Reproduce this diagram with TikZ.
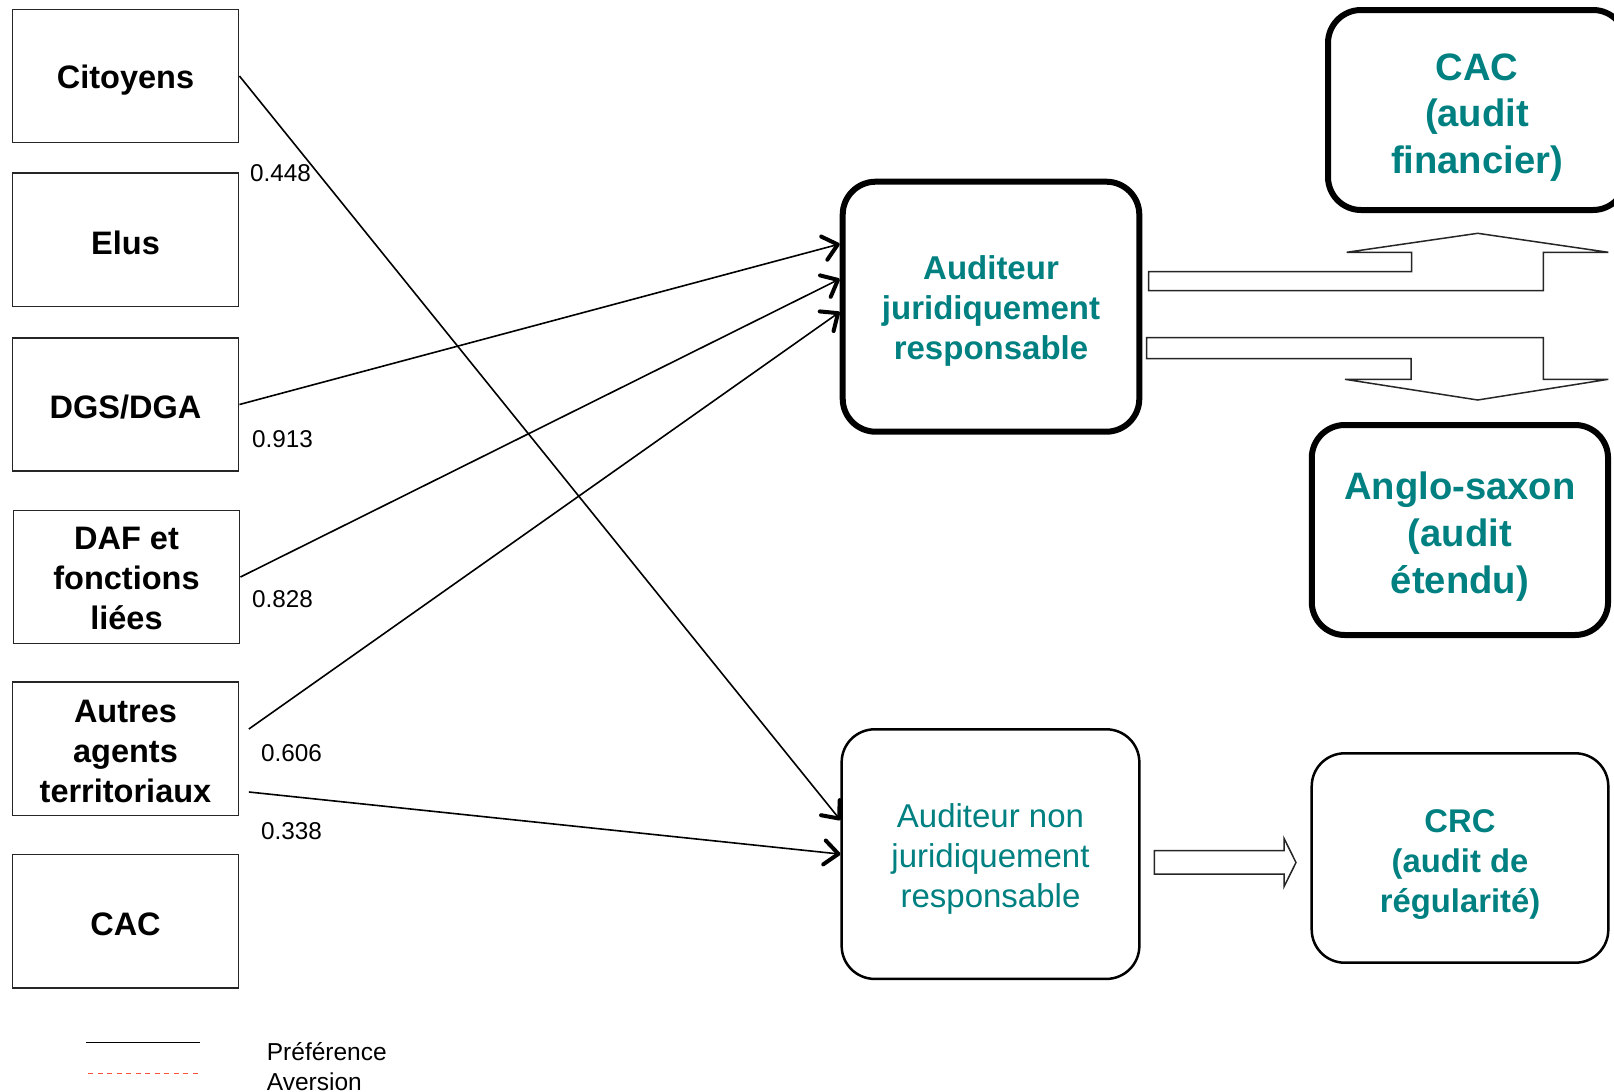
\documentclass[tikz,border=0pt]{standalone}
\usepackage{fontspec}
\setmainfont{Liberation Sans}
\usetikzlibrary{arrows.meta}
\definecolor{tealtxt}{RGB}{0,128,128}
\definecolor{avers}{RGB}{250,85,60}
\begin{document}
\begin{tikzpicture}[x=1pt,y=-1pt,
  actor/.style={draw=black!85, line width=1.5pt, minimum width=226.4pt, minimum height=133.4pt,
    inner sep=0pt},
  actortxt/.style={inner sep=0pt, align=center, font=\fontsize{32.5}{40}\selectfont\bfseries},
  thickbox/.style={draw=black, line width=6pt, rounded corners=33pt, inner sep=0pt},
  thinbox/.style={draw=black, line width=2.5pt, rounded corners=33pt, inner sep=0pt},
  boxtxt/.style={inner sep=0pt, align=center, text=tealtxt},
  conn/.style={draw=black, line width=1.6pt,
    -{Straight Barb[length=14pt,width=24pt,line width=4pt,round]}},
  coef/.style={anchor=west, inner sep=0pt, font=\fontsize{24.3}{29}\selectfont},
  legtxt/.style={anchor=base west, inner sep=0pt, font=\fontsize{24.5}{29}\selectfont},
  blockarrow/.style={draw=black!85, line width=1.5pt, fill=white, line join=miter}
]
\useasboundingbox (0,0) rectangle (1614,1092);
\clip (0,0) rectangle (1614,1092);

% left actors
\node[actor] (cit) at (125.5,76) {};
\node[actor] (elu) at (125.5,239.7) {};
\node[actor] (dgs) at (125.5,404.5) {};
\node[actor] (daf) at (126.5,577) {};
\node[actor] (aut) at (125.5,748.7) {};
\node[actor] (cac) at (125.5,921.2) {};
\node[actortxt] (citt) at ([yshift=-4pt]cit.center) {Citoyens};
\node[actortxt] (elut) at ([yshift=-3pt]elu.center) {Elus};
\node[actortxt] (dgst) at ([yshift=-3pt]dgs.center) {DGS/DGA};
\node[actortxt] (daft) at ([yshift=-1.5pt]daf.center) {DAF et\\fonctions\\liées};
\node[actortxt] (autt) at ([yshift=-3pt]aut.center) {Autres\\agents\\territoriaux};
\node[actortxt] (cact) at ([yshift=-3pt]cac.center) {CAC};

% auditors
\node[thickbox, minimum width=296.6pt, minimum height=250pt] (aj) at (991,306.7) {};
\node[boxtxt, font=\fontsize{33}{40}\selectfont\bfseries] (ajt) at ([yshift=-4.5pt]aj.center)
  {Auditeur\\juridiquement\\responsable};
\node[thinbox, minimum width=297.7pt, minimum height=249.6pt] (anj) at (990.5,854.1) {};
\node[boxtxt, font=\fontsize{33}{40.3}\selectfont] (anjt) at ([yshift=-5pt]anj.center)
  {Auditeur non\\juridiquement\\responsable};

% audit types
\node[thickbox, minimum width=298pt, minimum height=200pt] (cacf) at (1477,110) {};
\node[boxtxt, font=\fontsize{38.2}{46.8}\selectfont\bfseries] (cacft) at ([yshift=-7.5pt]cacf.center)
  {CAC\\(audit\\financier)};
\node[thickbox, minimum width=296.3pt, minimum height=210pt] (anglo) at (1459.9,530) {};
\node[boxtxt, font=\fontsize{38.2}{46.8}\selectfont\bfseries] (anglot) at ([yshift=-6.7pt]anglo.center)
  {Anglo-saxon\\(audit\\étendu)};
\node[thinbox, minimum width=296.6pt, minimum height=209.4pt] (crc) at (1460,858) {};
\node[boxtxt, font=\fontsize{32.8}{40.1}\selectfont\bfseries] (crct) at ([yshift=-6.5pt]crc.center)
  {CRC\\(audit de\\régularité)};

% connectors
\draw[conn] (cit.east) -- ([yshift=34pt]anj.west);
\draw[conn] (dgs.east) -- ([yshift=62.7pt]aj.west);
\draw[conn] (daf.east) -- ([yshift=27.7pt]aj.west);
\draw[conn] ([xshift=9.4pt,yshift=19.7pt]aut.east) -- ([yshift=-5.3pt]aj.west);
\draw[conn] ([xshift=9.4pt,yshift=-43.3pt]aut.east) -- (anj.west);

% coefficients
\node[coef] (c1) at (250,173) {0.448};
\node[coef] (c2) at (252,439.5) {0.913};
\node[coef] (c3) at (252,599) {0.828};
\node[coef] (c4) at (261,753) {0.606};
\node[coef] (c5) at (261,830.7) {0.338};

% block arrows
\draw[blockarrow] (1148.7,271.7) -- (1411.7,271.7) -- (1411.7,252.3) -- (1346.7,252.3)
  -- (1477.7,233.3) -- (1608.3,252.3) -- (1543.3,252.3) -- (1543.3,290.7)
  -- (1148.7,290.7) -- cycle;
\draw[blockarrow] (1146.7,337.7) -- (1543.3,337.7) -- (1543.3,379.3) -- (1608.3,379.3)
  -- (1477.7,400) -- (1345,379.3) -- (1411,379.3) -- (1411,358.7)
  -- (1146.7,358.7) -- cycle;
\draw[blockarrow] (1154.3,850.7) -- (1284,850.7) -- (1284,838.3) -- (1296,862.5)
  -- (1284,886.7) -- (1284,874) -- (1154.3,874) -- cycle;

% legend
\coordinate (lp1) at (86,1042.3);
\coordinate (lp2) at (200,1042.3);
\coordinate (la1) at (88,1073.3);
\coordinate (la2) at (200,1073.3);
\draw[black, line width=1.5pt] (lp1) -- (lp2);
\draw[avers, line width=1.5pt, dash pattern=on 5pt off 4.5pt] (la1) -- (la2);
\node[legtxt] (lpt) at (266.7,1060) {Préférence};
\node[legtxt] (lat) at (266.7,1090) {Aversion};
\end{tikzpicture}
\end{document}
